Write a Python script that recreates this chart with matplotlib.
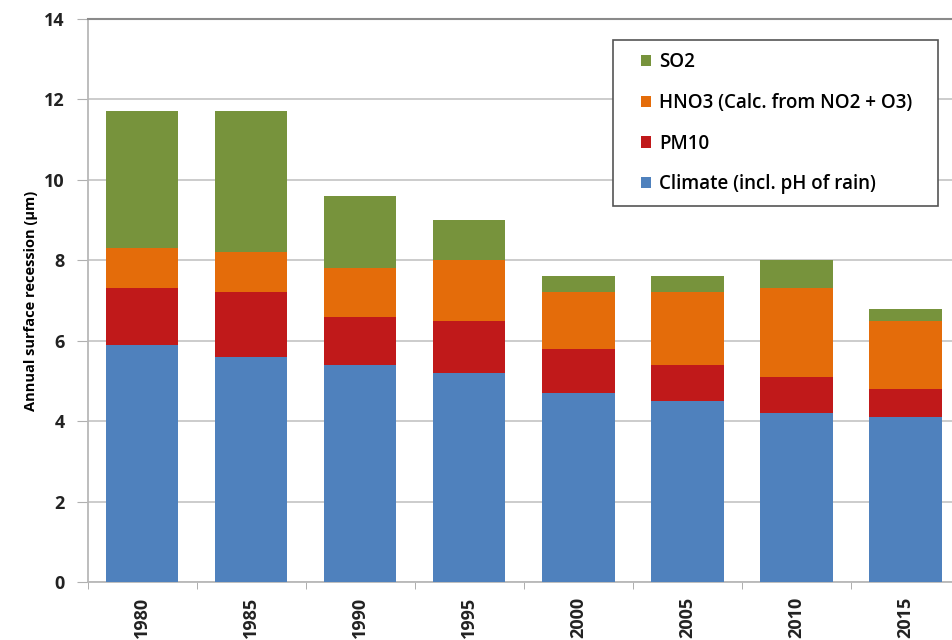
import matplotlib.pyplot as plt
import numpy as np
from matplotlib.patches import Rectangle

years = ["1980", "1985", "1990", "1995", "2000", "2005", "2010", "2015"]
climate = [5.9, 5.6, 5.4, 5.2, 4.7, 4.5, 4.2, 4.1]
pm10 = [1.4, 1.6, 1.2, 1.3, 1.1, 0.9, 0.9, 0.7]
hno3 = [1.0, 1.0, 1.2, 1.5, 1.4, 1.8, 2.2, 1.7]
so2 = [3.4, 3.5, 1.8, 1.0, 0.4, 0.4, 0.7, 0.3]

labels = ["Climate (incl. pH of rain)", "PM10", "HNO3 (Calc. from NO2 + O3)", "SO2"]
colors = ["#4f81bd", "#c0191a", "#e46c0a", "#77933c"]

plt.rcParams["font.family"] = ["Open Sans", "DejaVu Sans"]

W, H = 952, 640
fig = plt.figure(figsize=(W / 100, H / 100), dpi=100)
# plot area is cropped on the right in the original
ax = fig.add_axes([87.5 / W, 58 / H, 872.5 / W, 563 / H])

x = np.arange(len(years))
bottom = np.zeros(len(years))
handles = []
for vals, lab, col in zip([climate, pm10, hno3, so2], labels, colors):
    h = ax.bar(x, vals, width=0.665, bottom=bottom, color=col, label=lab, zorder=3)
    handles.append(h)
    bottom += np.array(vals)

ax.set_xlim(-0.5, len(years) - 0.5)
ax.set_ylim(0, 14)
ax.set_yticks(range(0, 15, 2))
ax.yaxis.grid(True, color="#c8c8c8", linewidth=1.3, zorder=0)

ax.set_xticks(x)
ax.set_xticklabels(years, rotation=90, fontsize=13, fontweight="bold", color="#222222")
ax.set_xticks(np.arange(-0.5, len(years), 1.0), minor=True)
ax.tick_params(axis="x", which="major", length=0, pad=10.5)
ax.tick_params(axis="x", which="minor", length=5, color="#a0a0a0")
ax.tick_params(axis="y", length=8, color="#b0b0b0", labelsize=13, pad=8.5, labelcolor="#222222")
for t in ax.get_yticklabels():
    t.set_fontweight("bold")

for side in ["left", "bottom"]:
    ax.spines[side].set_color("#b8b8b8")
    ax.spines[side].set_linewidth(1.3)
ax.spines["top"].set_color("#8a8a8a")
ax.spines["top"].set_linewidth(1.5)
ax.spines["right"].set_visible(False)

ax.set_ylabel("Annual surface recession (µm)", fontsize=10.5, fontweight="bold")
ax.yaxis.set_label_coords(-0.0567, 0.5)

# legend box drawn separately (wider than the entries), entries on top
box = Rectangle((613 / W, 1 - 206 / H), 325 / W, 166 / H, transform=fig.transFigure,
                facecolor="white", edgecolor="#555555", linewidth=1.2,
                zorder=5, clip_on=False)
ax.add_patch(box)
leg = ax.legend(handles[::-1], labels[::-1], loc="upper left",
                bbox_to_anchor=(0.6344, 0.9414), borderaxespad=0,
                prop={"size": 13.5, "weight": "semibold"},
                frameon=False, handlelength=0.55, handleheight=0.55,
                handletextpad=0.4, labelspacing=1.11, borderpad=0)
leg.set_zorder(6)

fig.savefig("out.png", dpi=100)
